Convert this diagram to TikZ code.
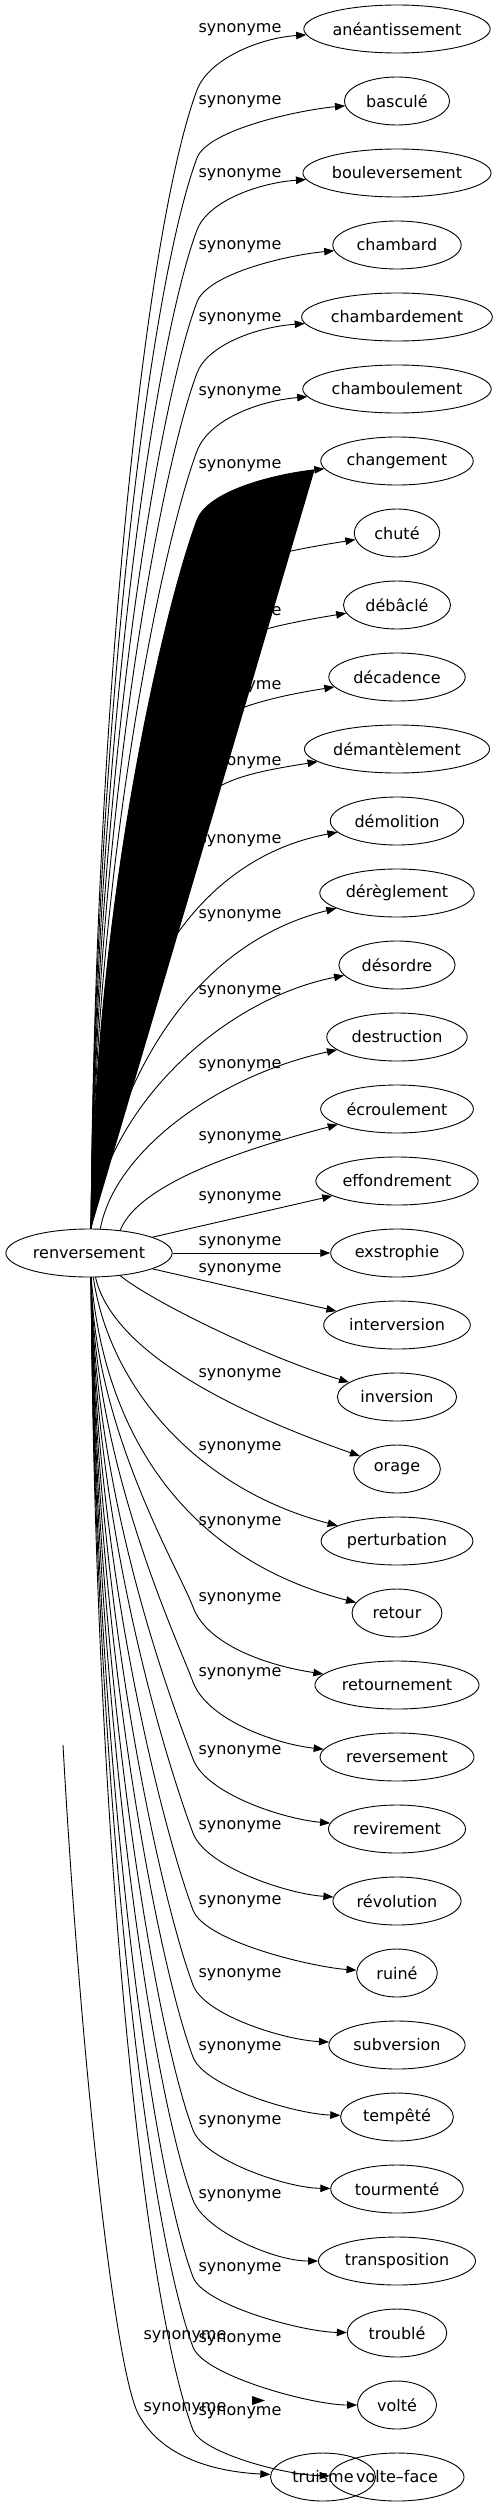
\documentclass[tikz,border=0pt]{standalone}
\usepackage{fontspec}
\setmainfont{DejaVu Sans}
\usetikzlibrary{shapes.geometric,arrows.meta}

\begin{document}
\begin{tikzpicture}[x=1pt, y=-1pt,
    word/.style={ellipse, draw, line width=0.9pt, inner sep=0pt, minimum height=48pt},
    rel/.style={inner sep=0pt},
    syn/.style={line width=0.9pt, -{Triangle[length=10pt, width=7.5pt]}}]
  \fontsize{16}{19}\selectfont
  \useasboundingbox (0,0) rectangle (502,2507);

  \pgfmathsetmacro\rw{1.206*width("renversement")+31}
  \node[word, minimum width=\rw pt] (renv) at (89,1253) {renversement};

  % word / bend / label shift / start angle
  \foreach \w/\bd/\ld/\ang [count=\idx from 0] in {anéantissement/61/1/85, basculé/57/1/85,
      bouleversement/57/2/85, chambard/57/2/85, chambardement/56/2/85, chamboulement/62/4/85,
      changement/59/5/85, chuté/60/6/85, débâclé/62/8/85, décadence/64/10/85,
      démantèlement/61/14/85, démolition/0/20/85, dérèglement/0/23/85, désordre/0/27/85,
      destruction/0/29/65, écroulement/0/29/36, effondrement/0/17/14, exstrophie/0/-10/0,
      interversion/0/-55/346, inversion/0/-22/324, orage/0/-21/285, perturbation/0/-18/280,
      retour/0/-14/275, retournement/78/-11/275, reversement/75/-5/275, revirement/70/-2/275,
      révolution/68/1/275, ruiné/63/2/275, subversion/60/3/275, tempêté/60/5/275,
      tourmenté/59/7/275, transposition/61/8/275, troublé/56/7/275, volté/58/8/275}{
    \pgfmathsetmacro\y{29+72*\idx}
    \pgfmathsetmacro\ly{\y+(\ld)}
    \pgfmathsetmacro\ew{1.206*width("\w")+31}
    \pgfmathsetmacro\xw{397-\ew/2-45}
    \node[word, minimum width=\ew pt] (n\idx) at (397,\y) {\w};
    \node[rel] (l\idx) at (240,\ly) {synonyme};
    \ifnum\idx=6 \tikzset{blob/.style={fill=black}}\else\tikzset{blob/.style={}}\fi
    \ifnum\idx<11
      \pgfmathsetmacro\by{\y+\bd}
      \pgfmathsetmacro\len{1229-\by}
      \draw[syn, blob] (renv.\ang) .. controls +(3,-0.46*\len) and (197-0.045*\len,\by+0.12*\len) .. (197,\by)
        .. controls (197+0.1875*\bd,\by-0.5*\bd) and (\xw,\ly+8) .. (n\idx);
    \fi
    \ifnum\idx>22
      \pgfmathsetmacro\by{\y-\bd}
      \pgfmathsetmacro\len{\by-1277}
      \draw[syn] (renv.\ang) .. controls +(3,0.46*\len) and (193-0.045*\len,\by-0.12*\len) .. (193,\by)
        .. controls (193+0.1875*\bd,\by+0.5*\bd) and (\xw,\ly-8) .. (n\idx);
    \fi
  }

  % the middle ones
  \draw[syn] (renv.85) .. controls (105,1000) and (190,860) .. (n11);
  \draw[syn] (renv.85) .. controls (115,1080) and (190,945) .. (n12);
  \draw[syn] (renv.85) .. controls (105,1110) and (220,1000) .. (n13);
  \draw[syn] (renv.65) .. controls (115,1150) and (220,1075) .. (n14);
  \draw[syn] (renv.36) .. controls (140,1180) and (260,1145) .. (n15);
  \draw[syn] (renv.14) -- (n16);
  \draw[syn] (renv.east) -- (n17);
  \draw[syn] (renv.346) -- (n18);
  \draw[syn] (renv.324) .. controls (150,1300) and (260,1355) .. (n19);
  \draw[syn] (renv.285) .. controls (110,1340) and (200,1400) .. (n20);
  \draw[syn] (renv.280) .. controls (110,1390) and (200,1490) .. (n21);
  \draw[syn] (renv.275) .. controls (105,1440) and (190,1560) .. (n22);

  % last row
  \node[word, minimum width=105pt] (truisme) at (323,2477) {truisme};
  \node[word, minimum width=134pt] (volteface) at (397,2477) {volte–face};
  \node[rel] (ltr) at (185,2409) {synonyme};
  \node[rel] (lvf) at (185,2337) {synonyme};
  \coordinate (tstart) at (63,1745);
  \draw[syn] (tstart) .. controls (80,2050) and (115,2380) .. (140,2417)
    .. controls (165,2460) and (220,2472) .. (truisme);
  \draw[syn] (renv.275) .. controls +(3,530) and (141,2292) .. (193,2430)
    .. controls (202,2453) and (285,2475) .. (volteface);
  \fill (252,2396) -- (265,2400.5) -- (252,2405) -- cycle;
\end{tikzpicture}
\end{document}
